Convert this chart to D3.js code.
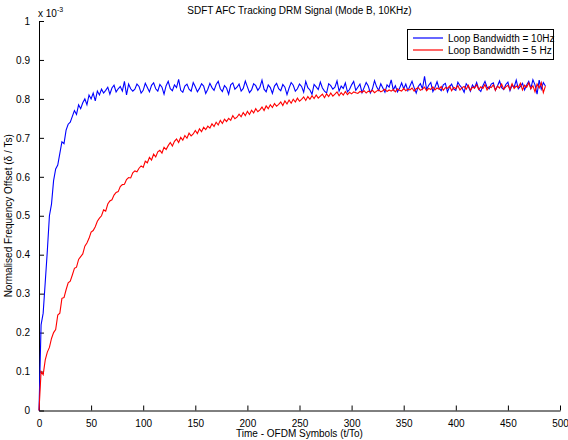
<!DOCTYPE html>
<html><head><meta charset="utf-8">
<script src="https://cdn.jsdelivr.net/npm/d3@7"></script>
<style>body{margin:0;background:#fff}svg text{font-family:"Liberation Sans",Arial,sans-serif;}</style>
</head><body><svg id="c" width="568" height="440"></svg>
<script>
const titleText = "SDFT AFC Tracking DRM Signal (Mode B, 10KHz)";
const xLabel = "Time - OFDM Symbols (t/To)";
const yLabel = "Normalised Frequency Offset (δ / Ts)";
const seriesNames = ["Loop Bandwidth = 10Hz", "Loop Bandwidth = 5 Hz"];
const xTicks = [0,50,100,150,200,250,300,350,400,450,500];
const yTicks = [0,0.1,0.2,0.3,0.4,0.5,0.6,0.7,0.8,0.9,1];
const symbolStep = 2; // samples read every 2 OFDM symbols
const blue10Hz = [
0.00,0.22,0.25,0.33,0.41,0.50,0.53,0.59,0.62,0.63,
0.66,0.69,0.685,0.72,0.735,0.74,0.755,0.77,0.76,0.785,
0.775,0.79,0.80,0.785,0.81,0.80,0.815,0.795,0.82,0.81,
0.825,0.815,0.822,0.83,0.812,0.828,0.835,0.818,0.826,0.832,
0.82,0.845,0.81,0.838,0.826,0.82,
0.825,0.838,0.832,0.815,0.822,0.84,0.829,0.818,0.835,0.841,
0.826,0.82,0.837,0.83,0.812,0.834,0.845,0.826,0.821,0.836,
0.829,0.85,0.822,0.817,0.833,0.838,0.825,0.82,0.842,0.831,
0.818,0.827,0.839,0.833,0.814,0.825,0.84,0.829,0.822,0.837,
0.845,0.826,0.819,0.834,0.828,0.812,0.836,0.841,0.825,0.83,
0.838,0.82,0.827,0.846,0.831,0.816,0.823,0.839,0.834,0.822,
0.83,0.848,0.825,0.818,0.836,0.829,0.814,0.833,0.84,0.826,
0.821,0.837,0.83,0.811,0.828,0.842,0.835,0.82,0.826,0.838,
0.832,0.817,0.845,0.829,0.823,0.812,0.837,0.831,0.824,0.843,
0.828,0.82,0.815,0.839,0.834,0.825,0.83,0.846,0.82,0.833,
0.827,0.841,0.818,0.824,0.836,0.845,0.822,0.83,0.838,0.816,
0.829,0.842,0.833,0.815,0.826,0.847,0.831,0.822,0.839,0.828,
0.817,0.836,0.83,0.849,0.823,0.834,0.818,0.827,0.841,0.826,
0.838,0.821,0.833,0.845,0.829,0.815,0.832,0.839,0.826,0.858,
0.824,0.835,0.842,0.819,0.83,0.844,0.827,0.821,0.836,0.84,
0.818,0.831,0.838,0.825,0.822,0.843,0.834,0.828,0.817,0.839,
0.832,0.82,0.836,0.828,0.842,0.825,0.819,0.834,0.845,0.83,
0.826,0.838,0.841,0.822,0.833,0.846,0.829,0.824,0.837,0.843,
0.821,0.835,0.83,0.848,0.826,0.832,0.84,0.823,0.836,0.845,
0.827,0.849,0.836,0.812,0.848,0.825,0.842,0.833
];
const red5Hz = [
0.00,0.10,0.092,0.13,0.15,0.162,0.185,0.20,0.208,0.245,
0.25,0.288,0.29,0.31,0.328,0.332,0.348,0.365,0.368,0.388,
0.395,0.402,0.422,0.43,0.442,0.458,0.462,0.472,0.486,0.494,
0.50,0.515,0.512,0.53,0.538,0.541,0.553,0.56,0.562,0.575,
0.58,0.581,0.593,0.598,0.597,0.61,0.615,0.613,0.622,0.628,
0.624,0.64,0.636,0.65,0.643,0.658,0.651,0.664,0.668,0.661,
0.676,0.67,0.68,0.688,0.679,0.691,0.697,0.688,0.701,0.694,
0.706,0.699,0.712,0.705,0.71,0.719,0.711,0.723,0.716,0.727,
0.721,0.73,0.725,0.736,0.729,0.74,0.733,0.745,0.737,0.748,
0.742,0.75,0.745,0.757,0.749,0.753,0.761,0.754,0.765,0.757,
0.768,0.76,0.771,0.764,0.775,0.767,0.772,0.779,0.77,0.782,
0.775,0.785,0.778,0.788,0.781,0.786,0.792,0.783,0.795,0.787,
0.797,0.789,0.799,0.792,0.802,0.794,0.799,0.805,0.796,0.806,
0.799,0.808,0.801,0.81,0.802,0.807,0.812,0.803,0.813,0.806,
0.815,0.807,0.812,0.818,0.808,0.816,0.81,0.819,0.811,0.817,
0.813,0.818,0.816,0.814,0.819,0.817,0.821,0.815,0.82,0.818,
0.822,0.816,0.82,0.823,0.818,0.821,0.825,0.819,0.823,0.82,
0.824,0.818,0.826,0.822,0.82,0.827,0.821,0.825,0.823,0.828,
0.82,0.826,0.829,0.822,0.825,0.83,0.821,0.827,0.824,0.831,
0.823,0.828,0.825,0.832,0.822,0.829,0.827,0.833,0.821,0.83,
0.826,0.834,0.823,0.829,0.832,0.825,0.835,0.822,0.83,0.828,
0.836,0.824,0.831,0.827,0.837,0.823,0.832,0.829,0.836,0.822,
0.833,0.828,0.838,0.825,0.831,0.835,0.824,0.839,0.827,0.833,
0.829,0.84,0.823,0.835,0.83,0.841,0.826,0.834,0.818,0.838,
0.828,0.842,0.816,0.833
];
const seriesColors = ["#0000ff", "#ff0000"];

const svg = d3.select("#c");
const m = {l:39, r:560, t:21, b:410.5};
const x = d3.scaleLinear().domain([0,500]).range([m.l, m.r]);
const y = d3.scaleLinear().domain([0,1]).range([m.b, m.t]);

// axes
const xa = svg.append("g").attr("transform",`translate(0,${m.b})`)
  .call(d3.axisBottom(x).tickValues(xTicks).tickSizeInner(-5).tickSizeOuter(0).tickPadding(9).tickFormat(d3.format("d")));
const ya = svg.append("g").attr("transform",`translate(${m.l},0)`)
  .call(d3.axisLeft(y).tickValues(yTicks).tickSizeInner(-5).tickSizeOuter(0).tickPadding(9).tickFormat(d=> d===0||d===1 ? String(d) : d3.format(".1f")(d)));
[xa,ya].forEach(g=>{
  g.selectAll("path").attr("stroke","#000").attr("stroke-width",1);
  g.selectAll("line").attr("stroke","#000");
  g.selectAll("text").attr("fill","#000").style("font-size","10px").style("font-family","'Liberation Sans',Arial,sans-serif");
});

// lines
const line = d3.line().x((d,i)=>x(i*symbolStep)).y(d=>y(d));
[blue10Hz, red5Hz].forEach((s,k)=>{
  svg.append("path").datum(s).attr("fill","none").attr("stroke",seriesColors[k]).attr("stroke-width",1.1).attr("d",line);
});

// title & labels
svg.append("text").attr("x",(m.l+m.r)/2).attr("y",14).attr("text-anchor","middle").style("font-size","10px").text(titleText);
svg.append("text").attr("x",(m.l+m.r)/2).attr("y",437).attr("text-anchor","middle").style("font-size","10px").text(xLabel);
svg.append("text").attr("transform",`translate(12,${(m.t+m.b)/2}) rotate(-90)`).attr("text-anchor","middle").style("font-size","10px").text(yLabel);
const ex = svg.append("text").attr("x",38).attr("y",17).style("font-size","10px");
ex.append("tspan").text("x 10");
ex.append("tspan").attr("dy",-5).style("font-size","7px").text("-3");

// legend
const lg = svg.append("g");
lg.append("rect").attr("x",407.5).attr("y",29.5).attr("width",146).attr("height",30).attr("fill","#fff").attr("stroke","#000").attr("stroke-width",1);
seriesNames.forEach((n,i)=>{
  const yy = 38 + i*12;
  lg.append("line").attr("x1",413).attr("x2",443).attr("y1",yy).attr("y2",yy).attr("stroke",seriesColors[i]).attr("stroke-width",1.2);
  lg.append("text").attr("x",448).attr("y",yy+3.5).style("font-size","10px").text(n);
});
</script></body></html>
